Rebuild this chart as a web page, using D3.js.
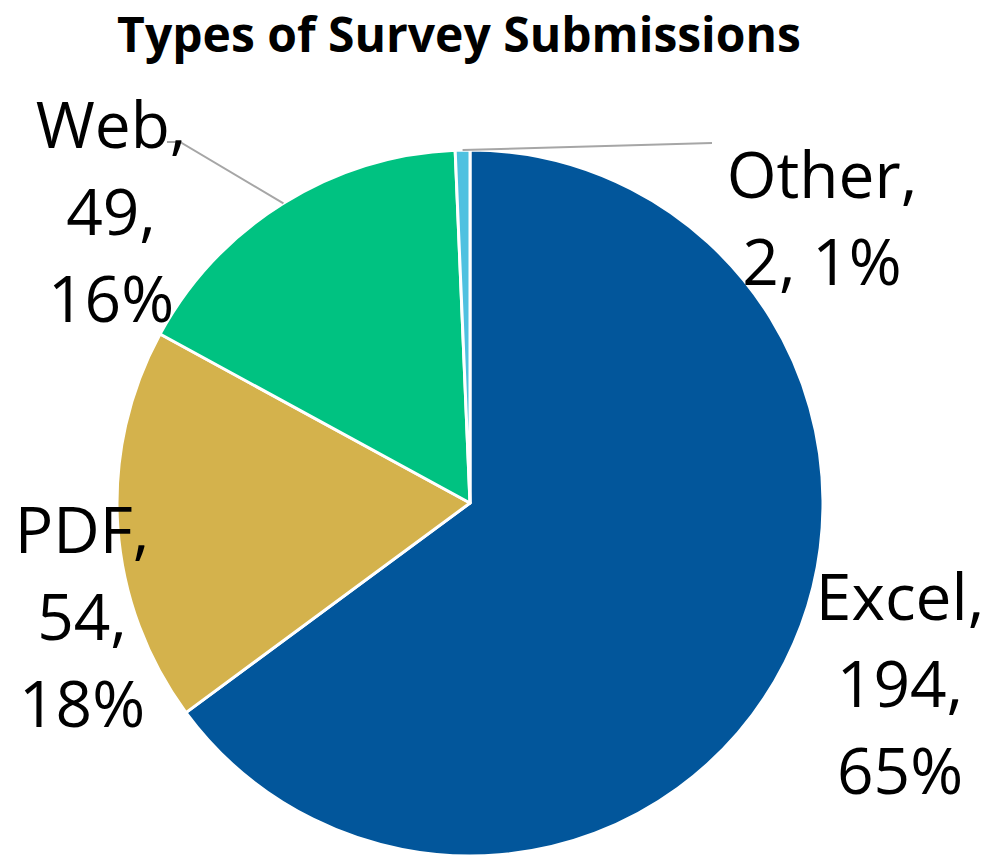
<!DOCTYPE html>
<html>
<head>
<meta charset="utf-8">
<script src="https://cdn.jsdelivr.net/npm/d3@7"></script>
<style>
  body { margin: 0; background: #fff; }
  text { font-family: "Open Sans", "Noto Sans", sans-serif; }
</style>
</head>
<body>
<div id="container-chart"></div>
<script>
// data
const categories = ["Excel", "PDF", "Web", "Other"];
const counts = [194, 54, 49, 2];
const colors = ["#02569B", "#D4B24C", "#00C281", "#4FC1E0"];
const title = "Types of Survey Submissions";

const width = 985, height = 857;
const cx = 470, cy = 503, radius = 353;

// label placement (layout only)
const labelLayout = {
  Excel: {x: 900, y: 620, split: true},
  PDF:   {x: 82,  y: 553, split: true},
  Web:   {x: 111, y: 148, split: true},
  Other: {x: 822, y: 198, split: false}
};
// leader lines end points (layout only)
const leaderEnds = {
  Web:   [[180, 142], [167, 142]],
  Other: [[712, 143]]
};

const svg = d3.select("#container-chart")
  .append("svg")
  .attr("width", width)
  .attr("height", height);

svg.append("text")
  .attr("x", 459)
  .attr("y", 52)
  .attr("text-anchor", "middle")
  .attr("font-size", 48)
  .attr("font-weight", "bold")
  .attr("fill", "#000")
  .text(title);

const data = categories.map((c, i) => ({name: c, value: counts[i], color: colors[i]}));
const total = d3.sum(counts);

const pie = d3.pie().sort(null).value(d => d.value);
const arc = d3.arc().innerRadius(0).outerRadius(radius);
const arcs = pie(data);

const g = svg.append("g").attr("transform", "translate(" + cx + "," + cy + ")");

g.selectAll("path.slice")
  .data(arcs)
  .join("path")
  .attr("class", "slice")
  .attr("d", arc)
  .attr("fill", d => d.data.color)
  .attr("stroke", "#fff")
  .attr("stroke-width", 3)
  .attr("stroke-linejoin", "round");

// leader lines
arcs.forEach(a => {
  const ends = leaderEnds[a.data.name];
  if (!ends) return;
  const mid = (a.startAngle + a.endAngle) / 2;
  const start = [cx + radius * Math.sin(mid), cy - radius * Math.cos(mid)];
  svg.append("path")
    .attr("d", d3.line()([start].concat(ends)))
    .attr("fill", "none")
    .attr("stroke", "#A6A6A6")
    .attr("stroke-width", 2);
});

// labels
arcs.forEach(a => {
  const lay = labelLayout[a.data.name];
  const pct = Math.round(a.data.value / total * 100) + "%";
  const lines = lay.split
    ? [a.data.name + ",", a.data.value + ",", pct]
    : [a.data.name + ",", a.data.value + ", " + pct];
  const t = svg.append("text")
    .attr("x", lay.x)
    .attr("y", lay.y)
    .attr("text-anchor", "middle")
    .attr("font-size", 64)
    .attr("fill", "#000");
  lines.forEach((l, i) => {
    t.append("tspan")
      .attr("x", lay.x)
      .attr("dy", i === 0 ? 0 : 87)
      .text(l);
  });
});
</script>
</body>
</html>
